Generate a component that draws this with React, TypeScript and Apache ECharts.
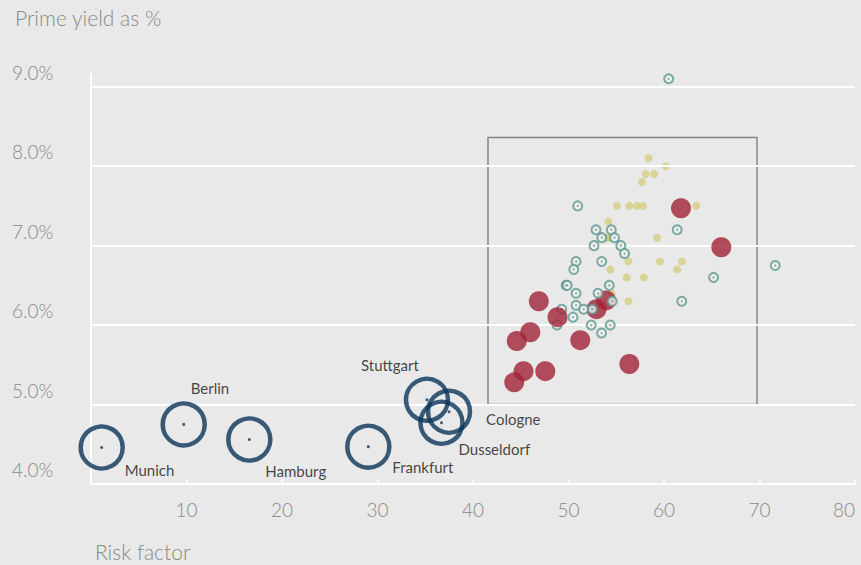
import React, { useEffect, useRef } from "react";
import * as echarts from "echarts";

// ---------- data ----------
const xTicks = [10, 20, 30, 40, 50, 60, 70, 80];
const yGridValues = [5, 6, 7, 8, 9];

const cityNames = ["Munich", "Berlin", "Hamburg", "Frankfurt", "Stuttgart", "Cologne", "Dusseldorf"];
const cityX = [1.12, 9.71, 16.58, 29.04, 35.18, 37.49, 36.7];
const cityY = [4.46, 4.75, 4.56, 4.47, 5.06, 4.91, 4.77];

const yellowX = [58.38, 60.18, 58.08, 58.98, 57.7, 55.08, 56.37, 57.17, 57.8, 63.38, 54.17, 53.98, 54.24, 59.27, 55.29, 56.28, 59.58, 61.88, 54.38, 61.39, 56.09, 57.88, 54.16, 54.52, 56.28];
const yellowY = [8.1, 8.0, 7.9, 7.9, 7.8, 7.5, 7.5, 7.5, 7.5, 7.5, 7.3, 7.1, 7.1, 7.1, 7.0, 6.8, 6.8, 6.8, 6.7, 6.7, 6.6, 6.6, 6.5, 6.4, 6.3];

const tealX = [60.49, 50.96, 52.88, 54.48, 61.38, 53.48, 54.82, 52.67, 55.48, 55.87, 50.79, 53.48, 71.65, 50.55, 65.19, 49.74, 49.87, 54.27, 50.79, 53.09, 54.58, 61.86, 50.79, 51.59, 52.49, 50.47, 52.38, 54.37, 53.46];
const tealY = [9.1, 7.5, 7.2, 7.2, 7.2, 7.1, 7.1, 7.0, 7.0, 6.9, 6.8, 6.8, 6.75, 6.7, 6.6, 6.5, 6.5, 6.5, 6.4, 6.4, 6.3, 6.3, 6.25, 6.2, 6.2, 6.1, 6.0, 6.0, 5.9];
// rings partly hidden behind red markers
const tealBackX = [49.29, 48.8];
const tealBackY = [6.2, 6.0];

const redX = [61.78, 66.0, 46.89, 48.85, 46.0, 44.58, 51.23, 52.93, 53.93, 56.37, 45.29, 47.57, 44.32];
const redY = [7.47, 6.98, 6.3, 6.1, 5.91, 5.8, 5.81, 6.2, 6.31, 5.51, 5.42, 5.42, 5.28];

// zoom box & callout
const boxX = [41.57, 69.74];
const boxY = [5.0, 8.36];
const calloutX = [69.74, 80.6];
const calloutY = 6.58;

// ---------- style ----------
const BG = "#e9e9e9";
const GREY = "#8c8883";
const NAVY = "#0a3459";
const FONT = "Lato, 'Open Sans', sans-serif";
const labelOffsets: Record<string, [number, number]> = {
  Munich: [23, 23],
  Berlin: [7, -36],
  Hamburg: [16, 31],
  Frankfurt: [24, 20],
  Stuttgart: [-66, -35],
  Cologne: [37, 7],
  Dusseldorf: [17, 26],
};

const zip = (xs: number[], ys: number[]) => xs.map((x, i) => [x, ys[i]]);

export default function App() {
  const ref = useRef<HTMLDivElement>(null);
  useEffect(() => {
    if (!ref.current) return;
    const chart = echarts.init(ref.current, undefined, { renderer: "svg" });

    const teal = "#5d988d";
    const ringSeries = (data: number[][], z: number) => [
      {
        type: "scatter",
        data,
        symbol: "circle",
        symbolSize: 9,
        z,
        itemStyle: { color: "#efefef", borderColor: teal, borderWidth: 2 },
        silent: true,
      },
      {
        type: "scatter",
        data,
        symbol: "circle",
        symbolSize: 2,
        z,
        itemStyle: { color: teal },
        silent: true,
      },
    ];

    const cityData = cityNames.map((n, i) => ({
      name: n,
      value: [cityX[i], cityY[i]],
      label: {
        show: true,
        formatter: n,
        position: "inside",
        align: "left",
        verticalAlign: "middle",
        offset: labelOffsets[n],
        color: "#151515",
        fontSize: 15,
        fontFamily: FONT,
      },
    }));

    chart.setOption({
      animation: false,
      backgroundColor: BG,
      title: [
        {
          text: "Prime yield as %",
          left: 10,
          top: 2,
          textStyle: { color: GREY, fontSize: 21, fontWeight: 300, fontFamily: FONT },
        },
        {
          text: "Risk factor",
          left: 90,
          top: 536,
          textStyle: { color: GREY, fontSize: 21, fontWeight: 300, fontFamily: FONT },
        },
      ],
      grid: {
        left: 91,
        right: 6,
        top: 74,
        bottom: 81,
        containLabel: false,
        outerBoundsMode: "none",
      },
      xAxis: {
        type: "value",
        min: 0,
        max: 80,
        interval: 10,
        axisLine: { show: true, lineStyle: { color: "#ffffff", width: 2 } },
        axisTick: { show: true, inside: true, length: 4, lineStyle: { color: "#ffffff", width: 1.5 } },
        splitLine: { show: false },
        axisLabel: {
          showMinLabel: false,
          alignMaxLabel: "right",
          color: GREY,
          fontSize: 19,
          fontWeight: 300,
          fontFamily: FONT,
          margin: 16,
          formatter: (v: number) => (xTicks.includes(v) ? String(v) : ""),
        },
      },
      yAxis: {
        type: "value",
        min: 4,
        max: 9.16,
        interval: 1,
        axisLine: { show: true, lineStyle: { color: "#ffffff", width: 2 } },
        axisTick: { show: false },
        splitLine: { show: false },
        axisLabel: {
          showMaxLabel: false,
          color: GREY,
          fontSize: 19,
          fontWeight: 300,
          fontFamily: FONT,
          align: "left",
          verticalAlign: "bottom",
          padding: [0, 0, 5, 0],
          margin: 79,
          formatter: (v: number) =>
            Math.abs(v - Math.round(v)) < 1e-6 ? v.toFixed(1) + "%" : "",
        },
      },
      series: [
        {
          type: "scatter",
          data: [],
          z: 1,
          silent: true,
          markLine: {
            silent: true,
            symbol: "none",
            label: { show: false },
            lineStyle: { color: "#ffffff", width: 2, type: "solid" },
            data: yGridValues.map((v) => ({ yAxis: v })),
          },
        },
        {
          type: "scatter",
          data: [],
          z: 2,
          silent: true,
          clip: false,
          markArea: {
            silent: true,
            itemStyle: { color: "rgba(0,0,0,0)", borderColor: "#8a8580", borderWidth: 1.5 },
            label: { show: false },
            data: [[{ coord: [boxX[0], boxY[1]] }, { coord: [boxX[1], boxY[0]] }]],
          },
          markLine: {
            silent: true,
            symbol: "none",
            label: { show: false },
            lineStyle: { color: "#8a8580", width: 1.5, type: "solid" },
            data: [[{ coord: [calloutX[0], calloutY] }, { coord: [calloutX[1], calloutY] }]],
          },
        },
        {
          type: "scatter",
          data: zip(yellowX, yellowY),
          symbolSize: 8,
          z: 3,
          itemStyle: { color: "#d5cd7f" },
          silent: true,
        },
        ...ringSeries(zip(tealBackX, tealBackY), 4),
        {
          type: "scatter",
          data: zip(redX, redY),
          symbolSize: 20,
          z: 5,
          itemStyle: { color: "#9f2236" },
          silent: true,
        },
        {
          type: "scatter",
          data: zip(redX, redY),
          symbolSize: 9,
          z: 5,
          itemStyle: {
            color: "rgba(0,0,0,0)",
            borderColor: "#c25567",
            borderWidth: 1,
            borderType: "dotted",
          },
          silent: true,
        },
        ...ringSeries(zip(tealX, tealY), 6),
        {
          type: "scatter",
          data: cityData,
          symbolSize: 42,
          z: 7,
          itemStyle: { color: "rgba(0,0,0,0)", borderColor: NAVY, borderWidth: 4.5 },
          silent: true,
        },
        {
          type: "scatter",
          data: zip(cityX, cityY),
          symbolSize: 3,
          z: 7,
          itemStyle: { color: NAVY },
          silent: true,
        },
      ],
    });
    return () => chart.dispose();
  }, []);

  return (
    <div
      ref={ref}
      style={{ position: "absolute", left: 0, top: 0, width: 861, height: 565 }}
    />
  );
}
